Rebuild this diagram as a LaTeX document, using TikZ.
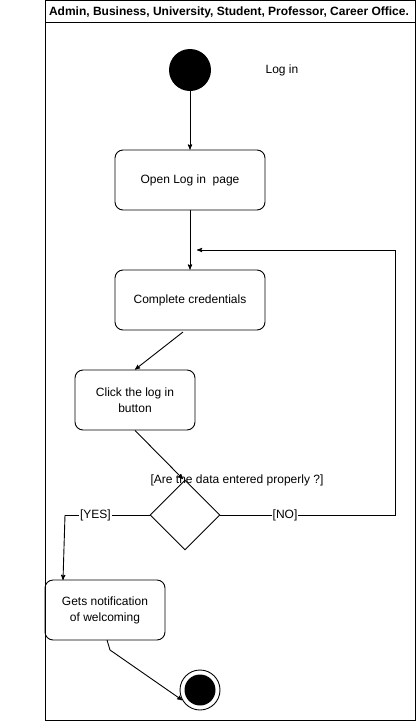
\documentclass[tikz,border=0pt]{standalone}
\usepackage{fontspec}
\setmainfont{Liberation Sans}
\usetikzlibrary{arrows,shapes.geometric}

\begin{document}
\begin{tikzpicture}[x=1pt,y=-1pt,->,>=stealth',line width=0.9pt,
  action/.style={draw, rounded corners=8pt, minimum width=150pt, minimum height=60pt,
    font=\fontsize{12}{16}\selectfont, align=center},
  guard/.style={font=\fontsize{12}{14}\selectfont, inner sep=1pt, fill=white}]
  \useasboundingbox (0,0) rectangle (416,721);

  %swimlane frame
  \draw[-] (45,0) rectangle (415,720);
  \draw[-] (45,22) -- (415,22);
  \node[font=\fontsize{12}{14}\bfseries] (lane) at (229,12) {Admin, Business, University, Student, Professor, Career Office.};

  %start
  \node[circle, fill=black, minimum size=42pt, inner sep=0pt] (start) at (190,70) {};
  \node[font=\fontsize{12}{14}\selectfont] (title) at (282,70) {Log in};

  %actions
  \node[action] (open) at (190,180) {Open Log in\ \ page};
  \node[action] (cred) at (190,300) {Complete credentials};
  \node[action, minimum width=120pt] (click) at (135,400) {Click the log in\\button};
  \node[action, minimum width=120pt] (notif) at (105,610) {Gets notification\\of welcoming};

  %decision
  \node[diamond, draw, minimum width=70pt, minimum height=70pt, inner sep=0pt] (check) at (185,515) {};
  \node[guard, fill=none] (question) at (237,480) {[Are the data entered properly ?]};

  %end
  \node[circle, draw, minimum size=40pt, inner sep=0pt] (stop) at (200,690) {};
  \node[circle, fill=black, minimum size=31pt, inner sep=0pt] (stopdot) at (stop) {};

  \coordinate (backin) at (197,250);
  \coordinate (backup) at (395,250);
  \coordinate (yesturn) at (65,515);
  \coordinate (bend) at (110,650);
  \coordinate (credout) at (183,332);
  \coordinate (checkin) at (183,479);

  %flows
  \draw (start) -- (open);
  \draw (open) -- (cred);
  \draw (credout) -- (click.north);
  \draw (click.south) -- (checkin);
  \draw[-] (check.east) -- node[guard, pos=0.37] (no) {[NO]} (395,515) -- (backup);
  \draw (backup) -- (backin);
  \draw[-] (check.west) -- node[guard, pos=0.64] (yes) {[YES]} (yesturn);
  \draw (yesturn) -- (63,580);
  \draw (107,640) -- (bend) -- (stop.210);
\end{tikzpicture}
\end{document}
